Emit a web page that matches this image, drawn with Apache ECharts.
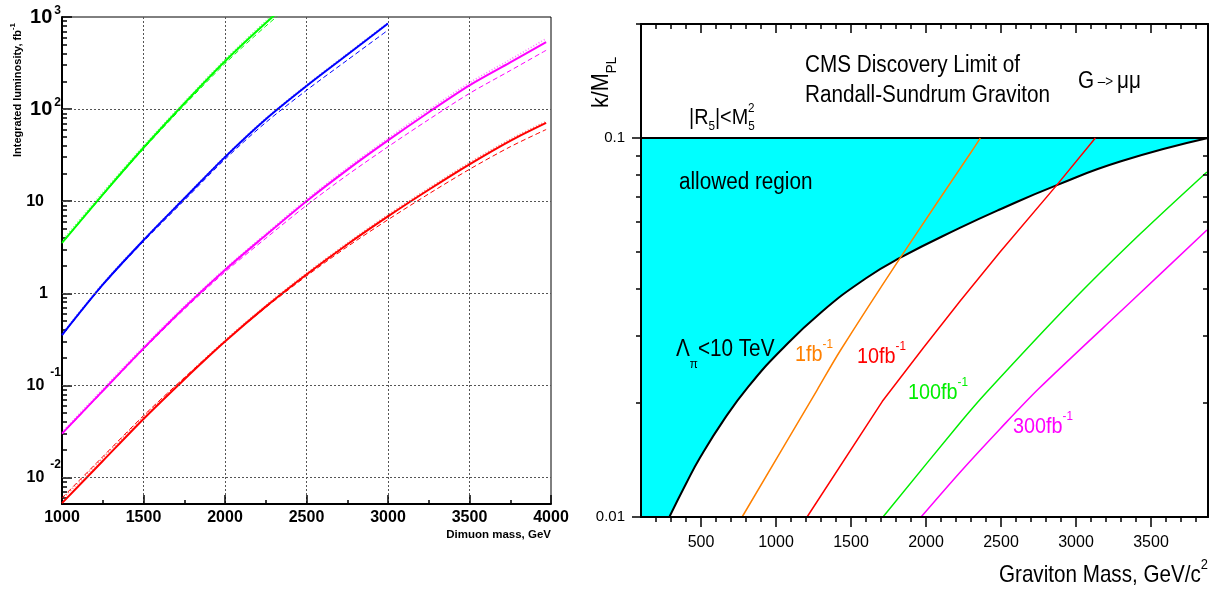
<!DOCTYPE html>
<html><head><meta charset="utf-8">
<script src="https://cdn.jsdelivr.net/npm/echarts@6/dist/echarts.min.js"></script>
<style>html,body{margin:0;padding:0;background:#fff}#c{width:1216px;height:590px}</style>
</head><body><div id="c"></div>
<script>
// ---------------- Left panel: integrated luminosity (fb^-1) vs dimuon mass (GeV)
const dimuonMass    = [1000, 1250, 1500, 1750, 2000, 2250, 2500, 2750, 3000, 3250, 3500, 3750, 3970];
const greenSolid    = [3.52, 11.8, 38.0, 115, 331, 861, 2090, null, null, null, null, null, null];
const greenDashed   = [3.5, 11.6, 37.0, 110, 312, 795, 1900, null, null, null, null, null, null];
const greenDotted   = [3.7, 12.4, 39.8, 119, 345, 900, 2200, null, null, null, null, null, null];
const blueSolid     = [0.352, 1.24, 3.77, 10.7, 30.1, 77.6, 178, 389, 851, null, null, null, null];
const blueDashed    = [0.35, 1.22, 3.65, 10.2, 28.5, 71.5, 160, 340, 720, null, null, null, null];
const blueDotted    = [0.36, 1.27, 3.82, 10.9, 30.6, 79, 182, 398, 865, null, null, null, null];
const magentaSolid  = [0.0299, 0.0871, 0.252, 0.695, 1.79, 4.27, 10.0, 21.9, 45.7, 92.5, 181, 321, 535];
const magentaDashed = [0.0295, 0.0855, 0.245, 0.67, 1.70, 3.95, 9.0, 19.2, 39.0, 77, 148, 262, 435];
const magentaDotted = [0.031, 0.091, 0.262, 0.72, 1.85, 4.42, 10.4, 22.9, 48.0, 98, 193, 345, 582];
const redSolid      = [0.00527, 0.0151, 0.0432, 0.116, 0.299, 0.716, 1.60, 3.39, 6.84, 13.3, 25.1, 45.2, 70.8];
const redDashed     = [0.0060, 0.0168, 0.0468, 0.121, 0.302, 0.70, 1.54, 3.2, 6.3, 12.0, 22.2, 39.0, 60.0];
const redDotted     = [0.0058, 0.0163, 0.0458, 0.120, 0.307, 0.735, 1.65, 3.5, 7.1, 13.8, 26.2, 47.0, 73.5];
const lumiExponents = [-2, -1, 0, 1, 2, 3];      // tick labels 10^-2 ... 10^3
const lumiRange     = [0.00515, 1000];

// ---------------- Right panel: k/M_PL vs graviton mass (GeV/c^2)
const gravRange     = [100, 3880];
const gravTicks     = [500, 1000, 1500, 2000, 2500, 3000, 3500];
const kRange        = [0.01, 0.2];
const kTicks        = [0.01, 0.1];
const limitMass     = [100, 3880];           // |R5|<M5^2 : k/M_PL = 0.1
const limitK        = [0.1, 0.1];
const lambdaMass    = [289, 400, 495, 650, 817, 1028, 1300, 1600, 1829, 2229, 2496, 2873, 3300, 3880];
const lambdaK       = [0.0100, 0.01224, 0.01437, 0.01799, 0.02211, 0.02741, 0.03467, 0.04267, 0.04835, 0.05801, 0.0649, 0.07515, 0.08682, 0.100];
const lumi1Mass     = [774, 1273, 1429, 1828, 2307, 2362];
const lumi1K        = [0.01, 0.0216, 0.0275, 0.0483, 0.0926, 0.1];
const lumi10Mass    = [1207, 1709, 1984, 2229, 2495, 2869, 3129];
const lumi10K       = [0.01, 0.0202, 0.0280, 0.0372, 0.0501, 0.0749, 0.1];
const lumi100Mass   = [1713, 2229, 2407, 2962, 3427, 3873];
const lumi100K      = [0.01, 0.01775, 0.0214, 0.0367, 0.0558, 0.0814];
const lumi300Mass   = [1967, 2229, 2495, 2751, 3373, 3873];
const lumi300K      = [0.01, 0.01315, 0.0171, 0.0218, 0.0372, 0.0572];

// ---------------- helpers
const FF = "'Liberation Sans', Arial, Helvetica, sans-serif";
const L10 = Math.log10;
const BLACK = '#000';
function pairs(xs, ys) {
  const out = [];
  for (let i = 0; i < xs.length; i++) if (ys[i] != null) out.push([xs[i], L10(ys[i])]);
  return out;
}
const leftMinor = [];
for (let e = -3; e <= 2; e++) for (let k = 2; k <= 9; k++) {
  const v = e + L10(k);
  if (v > L10(lumiRange[0]) && v < L10(lumiRange[1])) leftMinor.push(v);
}
const rightMinor = [];
for (let e = -2; e <= -1; e++) for (let k = 2; k <= 9; k++) {
  const v = e + L10(k);
  if (v > L10(kRange[0]) - 1e-9 && v <= L10(kRange[1]) + 1e-9) rightMinor.push(v);
}
const gravMinor = [];
for (let m = 200; m <= 3800; m += 100) gravMinor.push(m);

function leftLine(name, vals, color, kind) {
  const style = kind === 'solid' ? { width: 2, type: 'solid', opacity: 1 }
              : kind === 'dashed' ? { width: 1, type: [5, 3], opacity: 1 }
              : { width: 1.6, type: [1, 2], opacity: 0.55 };
  return {
    name: name, type: 'line', xAxisIndex: 0, yAxisIndex: 0, showSymbol: false, smooth: 0.3,
    data: pairs(dimuonMass, vals), z: kind === 'solid' ? 4 : 3, silent: true,
    lineStyle: Object.assign({ color: color }, style)
  };
}
function rightLine(name, xs, ys, color, extra) {
  return Object.assign({
    name: name, type: 'line', xAxisIndex: 1, yAxisIndex: 2, showSymbol: false, silent: true, smooth: 0.3,
    data: pairs(xs, ys), z: 4, lineStyle: { color: color, width: 1.5 }
  }, extra || {});
}
function rtok(fs, color, va, weight) {
  return { fontSize: fs, fill: color, fontFamily: FF, fontWeight: weight || 'normal', verticalAlign: va || 'middle' };
}
function txt(x, y, text, rich, o) {
  o = o || {};
  return {
    type: 'text', x: x, y: y, rotation: o.rot || 0, scaleX: o.sx || 1, silent: true, z: 100,
    style: { text: text, rich: rich, fill: o.color || BLACK, align: o.align || 'left',
             verticalAlign: 'middle', fontFamily: FF, fontSize: o.fs || 22 }
  };
}
function richSet(mainFs, mainLh, subFs, subVa, color, weight) {
  return {
    m: Object.assign(rtok(mainFs, color, 'middle', weight), { lineHeight: mainLh }),
    s: rtok(subFs, color, subVa, weight)
  };
}
function plain(v) { return String(Math.round(v)); }

const leftRich = {
  p0: { fontSize: 16, fontWeight: 'bold', fontFamily: FF, color: BLACK, padding: [0, 13, 0, 0] },
  p1: { fontSize: 16, fontWeight: 'bold', fontFamily: FF, color: BLACK, padding: [0, 17, 0, 0] },
  bb: { fontSize: 20, fontWeight: 'bold', fontFamily: FF, color: BLACK, lineHeight: 24, verticalAlign: 'middle' },
  bs: { fontSize: 12, fontWeight: 'bold', fontFamily: FF, color: BLACK, verticalAlign: 'top', padding: [0, 0, 0, 2] },
  sb: { fontSize: 16, fontWeight: 'bold', fontFamily: FF, color: BLACK, lineHeight: 37, verticalAlign: 'middle' },
  ss: { fontSize: 12, fontWeight: 'bold', fontFamily: FF, color: BLACK, verticalAlign: 'top', padding: [0, 0, 0, 6] }
};

const axLine = { onZero: false, lineStyle: { color: BLACK, width: 2 } };
const tickStyle = { color: BLACK, width: 1.5 };

const option = {
  animation: false,
  backgroundColor: '#fff',
  textStyle: { fontFamily: FF },
  grid: [
    { left: 62, top: 17, width: 489, height: 487, show: true, borderColor: BLACK, borderWidth: 1, backgroundColor: 'transparent' },
    { left: 641, top: 24, width: 567, height: 493, show: false }
  ],
  xAxis: [
    { gridIndex: 0, type: 'value', position: 'bottom', min: 1000, max: 4000, interval: 500,
      axisLine: axLine, axisTick: { inside: true, length: 9, lineStyle: tickStyle },
      minorTick: { show: true, splitNumber: 2, length: 4, lineStyle: tickStyle },
      axisLabel: { color: BLACK, fontSize: 16, fontWeight: 'bold', fontFamily: FF, margin: 6, formatter: plain },
      splitLine: { show: true, showMinLine: false, showMaxLine: false, lineStyle: { color: '#555', type: [2, 2], width: 1 } } },
    { gridIndex: 1, type: 'value', position: 'bottom', min: gravRange[0], max: gravRange[1], z: 10,
      axisLine: axLine, axisTick: { length: 10, customValues: gravTicks, lineStyle: tickStyle },
      axisLabel: { customValues: gravTicks, color: BLACK, fontSize: 16, fontFamily: FF, margin: 18, formatter: plain },
      splitLine: { show: false } },
    { gridIndex: 1, type: 'value', position: 'bottom', min: gravRange[0], max: gravRange[1], z: 10,
      axisLine: { show: false }, axisTick: { length: 5, customValues: gravMinor, lineStyle: tickStyle },
      axisLabel: { show: false }, splitLine: { show: false } },
    { gridIndex: 1, type: 'value', position: 'top', min: gravRange[0], max: gravRange[1], z: 10,
      axisLine: axLine, axisTick: { inside: true, length: 9, customValues: gravTicks, lineStyle: tickStyle },
      axisLabel: { show: false }, splitLine: { show: false } },
    { gridIndex: 1, type: 'value', position: 'top', min: gravRange[0], max: gravRange[1], z: 10,
      axisLine: { show: false }, axisTick: { inside: true, length: 5, customValues: gravMinor, lineStyle: tickStyle },
      axisLabel: { show: false }, splitLine: { show: false } }
  ],
  yAxis: [
    { gridIndex: 0, type: 'value', position: 'left', min: L10(lumiRange[0]), max: L10(lumiRange[1]),
      axisLine: axLine,
      axisTick: { inside: true, length: 10, customValues: lumiExponents, lineStyle: tickStyle },
      axisLabel: { customValues: lumiExponents, margin: 1, rich: leftRich,
        formatter: function (v) {
          const e = Math.round(v);
          if (e === 0) return '{p0|1}';
          if (e === 1) return '{p1|10}';
          if (e >= 2) return '{bb|10}{bs|' + e + '}';
          return '{sb|10}{ss|' + e + '}';
        } },
      splitLine: { show: false } },
    { gridIndex: 0, type: 'value', position: 'left', min: L10(lumiRange[0]), max: L10(lumiRange[1]),
      axisLine: { show: false }, axisTick: { inside: true, length: 5, customValues: leftMinor, lineStyle: tickStyle },
      axisLabel: { show: false }, splitLine: { show: false } },
    { gridIndex: 1, type: 'value', position: 'left', min: L10(kRange[0]), max: L10(kRange[1]), z: 10,
      axisLine: axLine,
      axisTick: { length: 9, customValues: kTicks.map(L10), lineStyle: tickStyle },
      axisLabel: { customValues: kTicks.map(L10), color: BLACK, fontSize: 15, fontFamily: FF, margin: 16,
        formatter: function (v) { return String(Number(Math.pow(10, v).toPrecision(1))); } },
      splitLine: { show: false } },
    { gridIndex: 1, type: 'value', position: 'left', min: L10(kRange[0]), max: L10(kRange[1]), z: 10,
      axisLine: { show: false }, axisTick: { length: 5, customValues: rightMinor, lineStyle: tickStyle },
      axisLabel: { show: false }, splitLine: { show: false } },
    { gridIndex: 1, type: 'value', position: 'right', min: L10(kRange[0]), max: L10(kRange[1]), z: 10,
      axisLine: axLine, axisTick: { inside: true, length: 5, customValues: rightMinor, lineStyle: tickStyle },
      axisLabel: { show: false }, splitLine: { show: false } }
  ],
  series: [
    { type: 'line', xAxisIndex: 0, yAxisIndex: 0, data: [], silent: true, z: 1,
      markLine: { silent: true, symbol: ['none', 'none'], label: { show: false }, animation: false,
        lineStyle: { color: '#555', type: [2, 2], width: 1 },
        data: lumiExponents.filter(function (e) { return e < 3; }).map(function (e) { return { yAxis: e }; }) } },
    leftLine('green dotted', greenDotted, '#00ff00', 'dotted'),
    leftLine('green dashed', greenDashed, '#00ff00', 'dashed'),
    leftLine('green', greenSolid, '#00ff00', 'solid'),
    leftLine('blue dotted', blueDotted, '#0000ff', 'dotted'),
    leftLine('blue dashed', blueDashed, '#0000ff', 'dashed'),
    leftLine('blue', blueSolid, '#0000ff', 'solid'),
    leftLine('magenta dotted', magentaDotted, '#ff00ff', 'dotted'),
    leftLine('magenta dashed', magentaDashed, '#ff00ff', 'dashed'),
    leftLine('magenta', magentaSolid, '#ff00ff', 'solid'),
    leftLine('red dotted', redDotted, '#ff0000', 'dotted'),
    leftLine('red dashed', redDashed, '#ff0000', 'dashed'),
    leftLine('red', redSolid, '#ff0000', 'solid'),

    rightLine('R5 limit', limitMass, limitK, BLACK,
      { z: 1, smooth: false, lineStyle: { color: BLACK, width: 2 }, areaStyle: { color: '#00ffff', opacity: 1, origin: 'start' } }),
    rightLine('Lambda limit', lambdaMass, lambdaK, BLACK,
      { z: 2, smooth: 0.5, lineStyle: { color: BLACK, width: 2 }, areaStyle: { color: '#ffffff', opacity: 1, origin: 'start' } }),
    rightLine('1 fb-1', lumi1Mass, lumi1K, '#ff8000'),
    rightLine('10 fb-1', lumi10Mass, lumi10K, '#ff0000', { smooth: false }),
    rightLine('100 fb-1', lumi100Mass, lumi100K, '#00ee00'),
    rightLine('300 fb-1', lumi300Mass, lumi300K, '#ff00ff')
  ],
  graphic: [
    txt(17.5, 90, '{m|Integrated luminosity, fb}{s|-1}', richSet(11, 18, 8, 'top', BLACK, 'bold'), { rot: Math.PI / 2, align: 'center' }),
    txt(551, 535, '{m|Dimuon mass, GeV}', { m: rtok(11.5, BLACK, 'middle', 'bold') }, { align: 'right' }),

    txt(601, 108, '{m|k/M}{s|PL}', richSet(24, 36, 15, 'bottom', BLACK), { rot: Math.PI / 2, sx: 0.9 }),
    txt(1208, 575, '{m|Graviton Mass, GeV/c}{s|2}', richSet(24, 36, 15, 'top', BLACK), { align: 'right', sx: 0.86 }),
    txt(805, 66, '{m|CMS Discovery Limit of}', { m: rtok(23, BLACK) }, { sx: 0.9 }),
    txt(805, 96, '{m|Randall-Sundrum Graviton}', { m: rtok(23, BLACK) }, { sx: 0.9 }),
    txt(1078, 82, '{m|G}{a| \u2013> }{m|\u03bc\u03bc}', { m: rtok(23, BLACK), a: rtok(15, BLACK) }, { sx: 0.9 }),
    txt(689, 118, '{m||R}{s|5}{m||<M}{s|5}', richSet(22, 30, 13, 'bottom', BLACK), { sx: 0.9 }),
    txt(748, 108, '{m|2}', { m: rtok(13, BLACK) }, { sx: 0.9 }),
    txt(679, 183, '{m|allowed region}', { m: rtok(23, BLACK) }, { sx: 0.9 }),
    txt(676, 350, '{m|\u039b}{s|\u03c0}{m|<10 TeV}', richSet(23, 42, 13, 'bottom', BLACK), { sx: 0.9 }),
    txt(795, 355, '{m|1fb}{s|-1}', richSet(22, 34, 13, 'top', '#ff8000'), { sx: 0.9 }),
    txt(857, 357, '{m|10fb}{s|-1}', richSet(22, 34, 13, 'top', '#ff0000'), { sx: 0.9 }),
    txt(908, 393, '{m|100fb}{s|-1}', richSet(22, 34, 13, 'top', '#00ee00'), { sx: 0.9 }),
    txt(1013, 427, '{m|300fb}{s|-1}', richSet(22, 34, 13, 'top', '#ff00ff'), { sx: 0.9 })
  ]
};

const chart = echarts.init(document.getElementById('c'), null, { renderer: 'canvas', width: 1216, height: 590 });
chart.setOption(option);
</script>
</body></html>
